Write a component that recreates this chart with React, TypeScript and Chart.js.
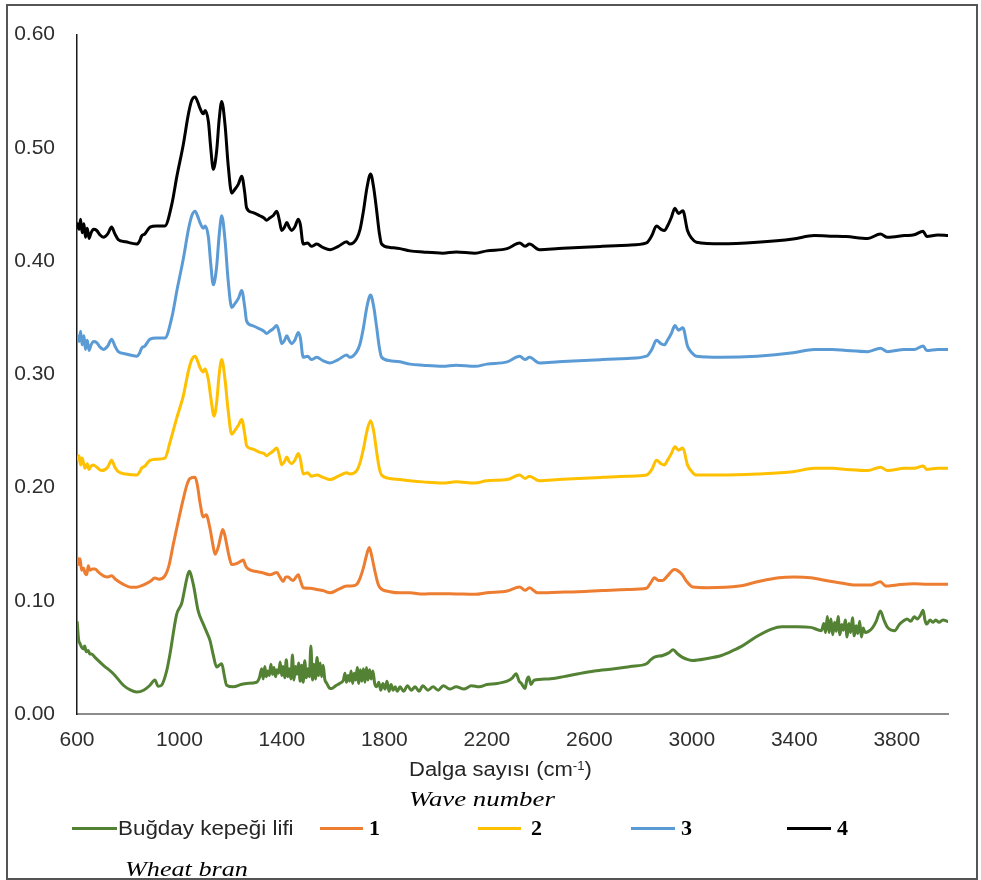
import React, { useEffect, useRef } from "react";
import { Chart, registerables } from "chart.js";

Chart.register(...registerables);

// Wavenumber ticks and absorbance ticks
const xTicks = [600, 1000, 1400, 1800, 2200, 2600, 3000, 3400, 3800];
const yTicks = [0, 0.1, 0.2, 0.3, 0.4, 0.5, 0.6];

const seriesNames = ["Buğday kepeği lifi", "1", "2", "3", "4"];
const seriesColors = ["#548235", "#ED7D31", "#FFC000", "#5B9BD5", "#000000"];

// Buğday kepeği lifi (wheat bran) : [wavenumber, absorbance]
const bugday: [number, number][] = [
  [601, 0.081], [606, 0.066], [612, 0.062], [618, 0.059], [625, 0.0575], [630, 0.06], [636, 0.055], [644, 0.056],
  [650, 0.053], [657, 0.053], [670, 0.05], [703, 0.043], [742, 0.0356], [781, 0.0254], [810, 0.021], [833, 0.0195],
  [860, 0.021], [885, 0.0254], [904, 0.03], [917, 0.0245], [930, 0.0254], [950, 0.038], [963, 0.053], [989, 0.088],
  [1009, 0.098], [1020, 0.11], [1028, 0.119], [1038, 0.126], [1054, 0.1145], [1073, 0.091], [1093, 0.0794], [1105, 0.073],
  [1119, 0.065], [1132, 0.052], [1145, 0.0414], [1155, 0.043], [1165, 0.0444], [1175, 0.034], [1184, 0.0254], [1210, 0.024],
  [1240, 0.026], [1262, 0.027], [1301, 0.028], [1312, 0.032],
  [1321, 0.04], [1327, 0.031], [1333, 0.042], [1339, 0.033], [1345, 0.038], [1351, 0.034], [1357, 0.044], [1363, 0.035],
  [1369, 0.041], [1375, 0.033], [1381, 0.039], [1387, 0.036], [1393, 0.046], [1399, 0.034], [1405, 0.042], [1411, 0.032],
  [1417, 0.048], [1423, 0.033], [1429, 0.04], [1435, 0.031], [1441, 0.052], [1447, 0.03], [1453, 0.042], [1459, 0.035],
  [1465, 0.045], [1471, 0.029], [1477, 0.043], [1483, 0.028], [1489, 0.047], [1495, 0.032], [1501, 0.04], [1507, 0.033],
  [1513, 0.06], [1519, 0.03], [1525, 0.044], [1531, 0.031], [1537, 0.05], [1543, 0.034], [1549, 0.045], [1555, 0.033],
  [1561, 0.043], [1567, 0.031], [1575, 0.027], [1585, 0.023], [1594, 0.0225], [1610, 0.025], [1625, 0.027], [1640, 0.03],
  [1646, 0.036], [1652, 0.028], [1658, 0.034], [1664, 0.029], [1670, 0.038], [1676, 0.027], [1682, 0.036], [1688, 0.03],
  [1694, 0.041], [1700, 0.027], [1706, 0.039], [1712, 0.029], [1718, 0.04], [1724, 0.028], [1730, 0.041], [1736, 0.03],
  [1742, 0.039], [1748, 0.031], [1755, 0.038], [1762, 0.027], [1770, 0.024], [1778, 0.028], [1786, 0.021], [1794, 0.027],
  [1802, 0.022], [1810, 0.029], [1818, 0.02], [1826, 0.026], [1834, 0.021], [1842, 0.024], [1850, 0.02], [1861, 0.024],
  [1875, 0.02], [1890, 0.025], [1905, 0.021], [1920, 0.024], [1935, 0.02], [1950, 0.025], [1970, 0.021], [1990, 0.024],
  [2010, 0.021], [2030, 0.025], [2055, 0.022], [2080, 0.024], [2110, 0.022], [2140, 0.025], [2170, 0.024], [2200, 0.026],
  [2240, 0.027], [2279, 0.029], [2300, 0.032], [2314, 0.0356], [2326, 0.029], [2335, 0.0269], [2349, 0.0225], [2356, 0.03],
  [2363, 0.0327], [2372, 0.026], [2384, 0.0298], [2440, 0.031], [2500, 0.033], [2558, 0.0356], [2620, 0.038], [2697, 0.04],
  [2760, 0.042], [2823, 0.0444], [2840, 0.048], [2854, 0.0502], [2886, 0.0517], [2910, 0.054], [2927, 0.0567], [2945, 0.053],
  [2962, 0.0502], [2985, 0.048], [3004, 0.0473], [3060, 0.049], [3115, 0.0517], [3160, 0.056], [3199, 0.0604], [3250, 0.068],
  [3311, 0.075], [3352, 0.0771], [3400, 0.077], [3464, 0.0765], [3506, 0.0736],
  [3515, 0.08], [3522, 0.072], [3529, 0.086], [3536, 0.072], [3543, 0.084], [3550, 0.07], [3557, 0.081], [3564, 0.073],
  [3571, 0.086], [3578, 0.07], [3585, 0.079], [3592, 0.074], [3599, 0.083], [3606, 0.068], [3613, 0.08], [3620, 0.072],
  [3627, 0.085], [3634, 0.069], [3641, 0.078], [3648, 0.071], [3655, 0.082], [3662, 0.068], [3669, 0.076], [3676, 0.072],
  [3690, 0.073], [3705, 0.076], [3720, 0.082], [3736, 0.091], [3750, 0.083], [3764, 0.0765], [3780, 0.074], [3792, 0.0736],
  [3810, 0.079], [3827, 0.0823], [3840, 0.084], [3855, 0.082], [3868, 0.0858], [3880, 0.084], [3892, 0.087], [3903, 0.0917],
  [3910, 0.083], [3917, 0.0794], [3930, 0.083], [3942, 0.081], [3952, 0.083], [3965, 0.081], [3980, 0.083], [4000, 0.0817],
];

// Sample 1
const s1: [number, number][] = [
  [601, 0.138], [606, 0.132], [612, 0.137], [618, 0.127], [625, 0.129], [632, 0.124], [638, 0.123], [644, 0.131],
  [650, 0.127], [660, 0.128], [670, 0.128], [685, 0.125], [703, 0.122], [720, 0.121], [735, 0.122], [750, 0.119],
  [781, 0.1145], [810, 0.112], [833, 0.112], [860, 0.114], [885, 0.117], [904, 0.12], [920, 0.119], [943, 0.122],
  [960, 0.132], [976, 0.15], [995, 0.17], [1015, 0.19], [1030, 0.203], [1041, 0.208], [1061, 0.209], [1070, 0.202],
  [1080, 0.187], [1093, 0.174], [1104, 0.176], [1119, 0.164], [1130, 0.15], [1139, 0.141], [1152, 0.148], [1162, 0.158],
  [1169, 0.163], [1177, 0.158], [1184, 0.15], [1195, 0.138], [1204, 0.132], [1225, 0.133], [1240, 0.135], [1249, 0.136],
  [1258, 0.131], [1269, 0.128], [1295, 0.126], [1321, 0.125], [1353, 0.123], [1380, 0.125], [1392, 0.121], [1405, 0.117],
  [1415, 0.121], [1425, 0.121], [1434, 0.119], [1444, 0.118], [1455, 0.121], [1464, 0.123], [1472, 0.118], [1483, 0.1115],
  [1510, 0.111], [1536, 0.11], [1560, 0.109], [1588, 0.107], [1620, 0.11], [1653, 0.113], [1670, 0.113], [1692, 0.1145],
  [1705, 0.12], [1718, 0.129], [1730, 0.14], [1741, 0.147], [1752, 0.138], [1763, 0.126], [1775, 0.115], [1783, 0.1115],
  [1822, 0.108], [1861, 0.107], [1900, 0.107], [1950, 0.106], [2000, 0.1063], [2080, 0.106], [2154, 0.1057], [2200, 0.107],
  [2279, 0.1086], [2328, 0.1121], [2349, 0.1092], [2366, 0.1115], [2398, 0.107], [2480, 0.1075], [2558, 0.108], [2650, 0.109],
  [2750, 0.11], [2823, 0.111], [2840, 0.116], [2854, 0.1203], [2870, 0.118], [2886, 0.118], [2905, 0.122], [2932, 0.1276],
  [2962, 0.1232], [2980, 0.117], [3004, 0.1121], [3060, 0.1115], [3185, 0.113], [3260, 0.117], [3339, 0.1203], [3400, 0.121],
  [3464, 0.1203], [3534, 0.1174], [3600, 0.115], [3645, 0.1139], [3700, 0.114], [3736, 0.1168], [3757, 0.113], [3800, 0.114],
  [3868, 0.115], [3920, 0.1145], [4000, 0.1145],
];

// Sample 2
const s2: [number, number][] = [
  [601, 0.225], [608, 0.228], [614, 0.22], [620, 0.226], [631, 0.217], [640, 0.221], [647, 0.216], [655, 0.219],
  [664, 0.22], [677, 0.218], [696, 0.215], [720, 0.218], [735, 0.224], [748, 0.218], [761, 0.214], [790, 0.212],
  [833, 0.211], [845, 0.214], [852, 0.217], [865, 0.219], [885, 0.224], [910, 0.225], [943, 0.226], [963, 0.24],
  [990, 0.262], [1015, 0.281], [1035, 0.303], [1048, 0.313], [1061, 0.316], [1072, 0.311], [1080, 0.306], [1093, 0.302],
  [1100, 0.305], [1113, 0.295], [1122, 0.28], [1135, 0.263], [1145, 0.275], [1155, 0.3], [1165, 0.313], [1178, 0.295],
  [1190, 0.268], [1204, 0.247], [1215, 0.25], [1230, 0.255], [1243, 0.26], [1255, 0.247], [1262, 0.237], [1285, 0.234],
  [1314, 0.231], [1330, 0.23], [1340, 0.228], [1352, 0.23], [1365, 0.232], [1380, 0.235], [1390, 0.228], [1399, 0.22],
  [1410, 0.223], [1419, 0.227], [1428, 0.223], [1438, 0.221], [1450, 0.224], [1464, 0.23], [1472, 0.225], [1483, 0.212],
  [1500, 0.213], [1515, 0.21], [1536, 0.211], [1560, 0.209], [1588, 0.207], [1620, 0.21], [1653, 0.213], [1665, 0.212],
  [1692, 0.215], [1705, 0.222], [1718, 0.234], [1732, 0.25], [1746, 0.259], [1758, 0.25], [1770, 0.231], [1780, 0.217],
  [1789, 0.211], [1822, 0.208], [1861, 0.207], [1900, 0.206], [1950, 0.205], [2028, 0.204], [2080, 0.205], [2154, 0.204],
  [2200, 0.206], [2279, 0.207], [2328, 0.211], [2349, 0.208], [2366, 0.21], [2405, 0.206], [2480, 0.207], [2558, 0.208],
  [2650, 0.209], [2750, 0.21], [2823, 0.211], [2844, 0.216], [2862, 0.224], [2880, 0.221], [2893, 0.22], [2905, 0.224],
  [2920, 0.23], [2934, 0.236], [2948, 0.233], [2965, 0.235], [2983, 0.22], [3000, 0.214], [3018, 0.211], [3115, 0.211],
  [3255, 0.212], [3395, 0.214], [3478, 0.217], [3550, 0.217], [3603, 0.216], [3687, 0.215], [3736, 0.218], [3764, 0.215],
  [3830, 0.217], [3868, 0.217], [3903, 0.219], [3917, 0.216], [3960, 0.217], [4000, 0.217],
];

// Sample 3
const s3: [number, number][] = [
  [601, 0.334], [608, 0.329], [614, 0.338], [620, 0.326], [627, 0.334], [633, 0.322], [640, 0.33], [647, 0.321],
  [655, 0.326], [665, 0.329], [677, 0.328], [690, 0.324], [703, 0.322], [720, 0.325], [735, 0.331], [748, 0.325],
  [761, 0.32], [790, 0.318], [833, 0.316], [845, 0.319], [852, 0.323], [865, 0.325], [885, 0.331], [910, 0.332],
  [943, 0.332], [970, 0.35], [990, 0.374], [1015, 0.402], [1035, 0.428], [1048, 0.44], [1061, 0.444], [1072, 0.439],
  [1080, 0.434], [1093, 0.429], [1100, 0.431], [1113, 0.421], [1122, 0.398], [1132, 0.379], [1145, 0.395], [1155, 0.423],
  [1165, 0.44], [1178, 0.418], [1190, 0.383], [1204, 0.359], [1215, 0.362], [1230, 0.367], [1243, 0.374], [1255, 0.359],
  [1262, 0.347], [1285, 0.343], [1314, 0.34], [1330, 0.338], [1340, 0.336], [1352, 0.338], [1365, 0.34], [1380, 0.343],
  [1390, 0.336], [1399, 0.327], [1410, 0.33], [1419, 0.334], [1428, 0.33], [1438, 0.327], [1450, 0.33], [1464, 0.337],
  [1472, 0.332], [1483, 0.315], [1500, 0.316], [1515, 0.313], [1536, 0.315], [1560, 0.312], [1588, 0.31], [1620, 0.313],
  [1653, 0.317], [1665, 0.315], [1692, 0.32], [1705, 0.327], [1718, 0.341], [1732, 0.36], [1746, 0.37], [1758, 0.36],
  [1770, 0.341], [1780, 0.324], [1789, 0.315], [1822, 0.312], [1861, 0.311], [1900, 0.309], [1950, 0.308], [2028, 0.307],
  [2080, 0.308], [2154, 0.307], [2200, 0.309], [2279, 0.311], [2328, 0.316], [2349, 0.313], [2366, 0.315], [2405, 0.31],
  [2480, 0.311], [2558, 0.312], [2650, 0.313], [2750, 0.314], [2823, 0.316], [2844, 0.322], [2862, 0.33], [2880, 0.327],
  [2893, 0.326], [2905, 0.33], [2920, 0.336], [2934, 0.343], [2948, 0.339], [2965, 0.341], [2983, 0.325], [3000, 0.319],
  [3018, 0.316], [3115, 0.315], [3255, 0.316], [3395, 0.319], [3478, 0.322], [3550, 0.322], [3603, 0.321], [3687, 0.32],
  [3736, 0.323], [3764, 0.32], [3830, 0.322], [3868, 0.322], [3903, 0.325], [3917, 0.321], [3960, 0.322], [4000, 0.322],
];

// Sample 4
const s4: [number, number][] = [
  [601, 0.433], [608, 0.428], [614, 0.437], [620, 0.425], [627, 0.433], [633, 0.421], [640, 0.429], [647, 0.42],
  [655, 0.425], [665, 0.428], [677, 0.427], [690, 0.423], [703, 0.421], [720, 0.424], [735, 0.43], [748, 0.424],
  [761, 0.419], [790, 0.417], [833, 0.415], [845, 0.418], [852, 0.422], [865, 0.424], [885, 0.43], [910, 0.431],
  [943, 0.431], [970, 0.45], [990, 0.475], [1015, 0.503], [1035, 0.53], [1048, 0.542], [1061, 0.545], [1072, 0.54],
  [1080, 0.535], [1093, 0.53], [1100, 0.533], [1113, 0.523], [1122, 0.5], [1132, 0.481], [1145, 0.497], [1155, 0.525],
  [1165, 0.541], [1178, 0.52], [1190, 0.485], [1204, 0.46], [1215, 0.463], [1230, 0.468], [1243, 0.475], [1255, 0.46],
  [1262, 0.447], [1285, 0.443], [1314, 0.44], [1330, 0.438], [1340, 0.436], [1352, 0.438], [1365, 0.44], [1380, 0.444],
  [1390, 0.436], [1399, 0.427], [1410, 0.43], [1419, 0.434], [1428, 0.43], [1438, 0.427], [1450, 0.43], [1464, 0.437],
  [1472, 0.432], [1483, 0.415], [1500, 0.416], [1515, 0.413], [1536, 0.415], [1560, 0.412], [1588, 0.41], [1620, 0.413],
  [1653, 0.417], [1665, 0.415], [1692, 0.42], [1705, 0.428], [1718, 0.444], [1732, 0.465], [1746, 0.477], [1758, 0.465],
  [1770, 0.444], [1780, 0.425], [1789, 0.415], [1822, 0.412], [1861, 0.411], [1900, 0.409], [1950, 0.408], [2028, 0.407],
  [2080, 0.408], [2154, 0.407], [2200, 0.409], [2279, 0.411], [2328, 0.416], [2349, 0.413], [2366, 0.415], [2405, 0.41],
  [2480, 0.411], [2558, 0.412], [2650, 0.413], [2750, 0.414], [2823, 0.416], [2844, 0.4225], [2862, 0.431], [2880, 0.428],
  [2893, 0.427], [2905, 0.431], [2920, 0.4385], [2934, 0.4467], [2948, 0.442], [2965, 0.4444], [2983, 0.427], [3000, 0.42],
  [3018, 0.4166], [3115, 0.4152], [3255, 0.4166], [3395, 0.4195], [3478, 0.4225], [3550, 0.422], [3603, 0.4216], [3687, 0.42],
  [3736, 0.4239], [3764, 0.421], [3830, 0.4225], [3868, 0.4233], [3903, 0.4263], [3917, 0.4216], [3960, 0.423], [4000, 0.4225],
];

const allSeries = [bugday, s1, s2, s3, s4];

const sans = "'Liberation Sans', Arial, sans-serif";
const serif = "'Liberation Serif', 'Times New Roman', serif";

export default function App() {
  const canvasRef = useRef<HTMLCanvasElement | null>(null);

  useEffect(() => {
    const canvas = canvasRef.current;
    if (!canvas) return;
    const chart = new Chart(canvas, {
      type: "line",
      data: {
        datasets: allSeries.map((pts, i) => ({
          label: seriesNames[i],
          data: pts.map(([x, y]) => ({ x, y })),
          borderColor: seriesColors[i],
          backgroundColor: seriesColors[i],
          borderWidth: 3,
          pointRadius: 0,
          cubicInterpolationMode: "monotone" as const,
          borderJoinStyle: "round" as const,
          borderCapStyle: "round" as const,
          fill: false,
        })),
      },
      options: {
        responsive: false,
        maintainAspectRatio: false,
        animation: false,
        events: [],
        layout: { padding: { left: 0, top: 29, right: 33, bottom: 0 } },
        plugins: { legend: { display: false }, tooltip: { enabled: false }, title: { display: false } },
        scales: {
          x: {
            type: "linear",
            min: 600,
            max: 4000,
            afterFit: (s: any) => { s.height = 166; },
            afterBuildTicks: (s: any) => { s.ticks = xTicks.map((v) => ({ value: v })); },
            grid: { display: false, drawTicks: false },
            border: { display: true, color: "#8c8c8c", width: 2 },
            ticks: {
              padding: 14,
              color: "#2e2e2e",
              font: { family: sans, size: 21 },
              maxRotation: 0,
              autoSkip: false,
              callback: (v: any) => String(v),
            },
          },
          y: {
            type: "linear",
            min: 0,
            max: 0.6,
            afterFit: (s: any) => { s.width = 77; },
            afterBuildTicks: (s: any) => { s.ticks = yTicks.map((v) => ({ value: v })); },
            grid: { display: false, drawTicks: false },
            border: { display: true, color: "#1a1a1a", width: 1.5 },
            ticks: {
              padding: 22,
              color: "#2e2e2e",
              font: { family: sans, size: 21 },
              callback: (v: any) => Number(v).toFixed(2),
            },
          },
        },
      },
    });
    return () => chart.destroy();
  }, []);

  const legendLine = (left: number, width: number, color: string) => (
    <div style={{ position: "absolute", left, top: 826.5, width, height: 3, background: color }} />
  );
  const legendNum = (left: number, text: string) => (
    <div style={{ position: "absolute", left, top: 817, fontFamily: serif, fontWeight: "bold", fontSize: 22, lineHeight: "22px", color: "#000" }}>{text}</div>
  );

  return (
    <div style={{ position: "absolute", left: 0, top: 0, width: 981, height: 880, background: "#fff", overflow: "hidden" }}>
      <canvas ref={canvasRef} width={981} height={880} style={{ position: "absolute", left: 0, top: 0, width: 981, height: 880 }} />
      <div style={{ position: "absolute", left: 6, top: 4, width: 968, height: 872, border: "2px solid #555", pointerEvents: "none" }} />
      <div style={{ position: "absolute", left: 409, top: 759, fontFamily: sans, fontSize: 20, lineHeight: "20px", color: "#262626", whiteSpace: "nowrap", transform: "scaleX(1.1)", transformOrigin: "left center" }}>
        Dalga sayısı (cm<sup style={{ fontSize: 12, verticalAlign: "6px", lineHeight: 0 }}>-1</sup>)
      </div>
      <div style={{ position: "absolute", left: 409, top: 788, fontFamily: serif, fontStyle: "italic", fontSize: 22, lineHeight: "22px", color: "#000", whiteSpace: "nowrap", transform: "scaleX(1.22)", transformOrigin: "left center" }}>
        Wave number
      </div>
      {legendLine(72, 45, seriesColors[0])}
      <div style={{ position: "absolute", left: 118, top: 818, fontFamily: sans, fontSize: 20, lineHeight: "20px", color: "#262626", whiteSpace: "nowrap", transform: "scaleX(1.12)", transformOrigin: "left center" }}>
        {seriesNames[0]}
      </div>
      {legendLine(320, 43, seriesColors[1])}
      {legendNum(369, seriesNames[1])}
      {legendLine(478, 43, seriesColors[2])}
      {legendNum(531, seriesNames[2])}
      {legendLine(631, 44, seriesColors[3])}
      {legendNum(681, seriesNames[3])}
      {legendLine(787, 44, seriesColors[4])}
      {legendNum(837, seriesNames[4])}
      <div style={{ position: "absolute", left: 125, top: 858, fontFamily: serif, fontStyle: "italic", fontSize: 22, lineHeight: "22px", color: "#000", whiteSpace: "nowrap", transform: "scaleX(1.19)", transformOrigin: "left center" }}>
        Wheat bran
      </div>
    </div>
  );
}
